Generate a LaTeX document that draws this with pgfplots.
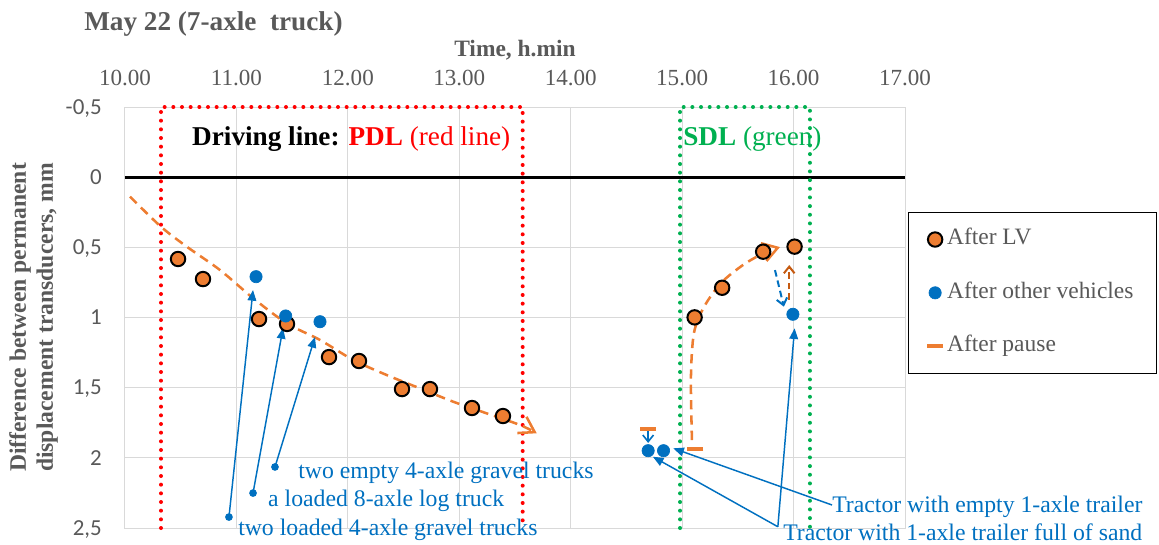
\documentclass[border=0pt]{standalone}
\usepackage{fontspec}
\setmainfont{Liberation Serif}
\newfontfamily\carlito{Carlito}
\usepackage{pgfplots}
\pgfplotsset{compat=1.18}
\usetikzlibrary{arrows.meta}
\definecolor{orng}{HTML}{ED7D31}
\definecolor{blu}{HTML}{0070C0}
\definecolor{dorng}{HTML}{C55A11}
\definecolor{txtgray}{HTML}{595959}
\definecolor{gridgray}{HTML}{D9D9D9}
\definecolor{grn}{HTML}{00B050}
\definecolor{rd}{HTML}{FF0000}
\begin{document}
\begin{tikzpicture}
\useasboundingbox (-93.75pt,-12pt) rectangle (775.5pt,396pt);
\begin{axis}[
  scale only axis, width=585pt, height=315.75pt,
  xmin=10, xmax=17, ymin=-0.5, ymax=2.5, y dir=reverse,
  clip=false,
  xtick={10,11,12,13,14,15,16,17},
  xticklabels={10.00,11.00,12.00,13.00,14.00,15.00,16.00,17.00},
  xticklabel pos=right,
  ytick={-0.5,0,0.5,1,1.5,2,2.5},
  yticklabels={{-0,5},{0},{0,5},{1},{1,5},{2},{2,5}},
  major tick length=0pt,
  grid=major, grid style={gridgray, line width=0.75pt},
  axis line style={gridgray, line width=0.75pt},
  xticklabel style={font=\fontsize{17.3}{20}\selectfont, text=txtgray, anchor=base, inner sep=0pt, yshift=16.5pt},
  yticklabel style={font=\carlito\fontsize{17.2}{20}\selectfont, text=txtgray, anchor=base east, inner sep=0pt, xshift=-17.25pt, yshift=-5.4pt},
  legend style={at={(1.0038,0.7506)}, anchor=north west, draw=black, line width=0.75pt,
    font=\fontsize{17.6}{21}\selectfont, text=txtgray, inner xsep=14pt, inner ysep=9.25pt, row sep=18pt,
    nodes={inner sep=3pt, text height=12pt, text depth=4pt}},
  legend cell align=left,
  legend image code/.code={\draw[mark repeat=2,mark phase=2,#1] plot coordinates {(0pt,0pt)(6pt,0pt)(12pt,0pt)};},
]
% zero line
\addplot[black, line width=2.25pt, forget plot] coordinates {(10,0) (17,0)};
% PDL / SDL boxes
\addplot[rd, line width=3pt, dash pattern=on 0pt off 6.5pt, line cap=round, forget plot]
  coordinates {(10.323,2.5) (10.323,-0.5) (13.569,-0.5) (13.569,2.5)};
\addplot[grn, line width=3pt, dash pattern=on 0pt off 6.5pt, line cap=round, forget plot]
  coordinates {(14.981,2.5) (14.981,-0.5) (16.147,-0.5) (16.147,2.5)};
% trend PDL
\addplot[orng, line width=1.9pt, dash pattern=on 7pt off 4.5pt, smooth, -{Straight Barb[length=11pt,width=14pt]}, forget plot]
  coordinates {(10.045,0.139) (10.323,0.353) (10.554,0.495) (10.853,0.662) (11.151,0.863) (11.451,1.041)
  (11.750,1.160) (12.049,1.303) (12.349,1.410) (12.647,1.505) (12.946,1.600) (13.246,1.683) (13.545,1.766) (13.695,1.825)};
% trend SDL
\addplot[orng, line width=1.9pt, dash pattern=on 7pt off 4.5pt, smooth, -{Straight Barb[length=11pt,width=14pt]}, forget plot]
  coordinates {(15.088,1.873) (15.079,1.424) (15.106,1.110) (15.196,0.925) (15.349,0.754) (15.546,0.626) (15.734,0.540) (15.878,0.498)};
% small arrows
\addplot[blu, line width=1.5pt, dash pattern=on 5pt off 3pt, -{Straight Barb[length=5pt,width=8pt]}, forget plot]
  coordinates {(15.833,0.662) (15.913,0.923)};
\addplot[dorng, line width=1.5pt, dash pattern=on 5pt off 3pt, -{Straight Barb[length=5pt,width=8pt]}, forget plot]
  coordinates {(15.961,0.875) (15.961,0.626)};
\addplot[blu, line width=1.2pt, -{Straight Barb[length=5pt,width=8pt]}, forget plot]
  coordinates {(14.695,1.809) (14.695,1.894)};
% annotation arrows (left)
\addplot[blu, line width=1.1pt, -{Triangle[length=8pt,width=6.5pt]}, mark=*, mark size=2.3pt, mark indices={1}, mark options={fill=blu}, forget plot]
  coordinates {(10.933,2.422) (11.149,0.804)};
\addplot[blu, line width=1.1pt, -{Triangle[length=8pt,width=6.5pt]}, mark=*, mark size=2.3pt, mark indices={1}, mark options={fill=blu}, forget plot]
  coordinates {(11.149,2.251) (11.418,1.075)};
\addplot[blu, line width=1.1pt, -{Triangle[length=8pt,width=6.5pt]}, mark=*, mark size=2.3pt, mark indices={1}, mark options={fill=blu}, forget plot]
  coordinates {(11.346,2.065) (11.705,1.139)};
% annotation arrows (right)
\addplot[blu, line width=1.1pt, -{Triangle[length=8pt,width=6.5pt]}, forget plot]
  coordinates {(16.345,2.336) (14.920,1.932)};
\addplot[blu, line width=1.1pt, -{Triangle[length=8pt,width=6.5pt]}, forget plot]
  coordinates {(15.859,2.491) (14.737,1.992)};
\addplot[blu, line width=1.1pt, -{Triangle[length=8pt,width=6.5pt]}, forget plot]
  coordinates {(15.859,2.491) (16.009,1.077)};
% series
\addplot[only marks, mark=*, mark size=5.4pt, mark options={fill=orng, draw=black, line width=1.5pt}]
  coordinates {(10.476,0.583) (10.700,0.726) (11.203,1.011) (11.454,1.046) (11.831,1.282) (12.100,1.310)
  (12.486,1.510) (12.737,1.510) (13.114,1.645) (13.392,1.702)
  (15.112,0.999) (15.359,0.788) (15.727,0.531) (16.009,0.495)};
\addlegendentry{After LV}
\addplot[only marks, mark=*, mark size=4.6pt, mark options={fill=blu, draw=blu, line width=0.5pt}]
  coordinates {(11.176,0.709) (11.442,0.989) (11.750,1.030) (14.695,1.949) (14.833,1.949) (15.994,0.977)};
\addlegendentry{After other vehicles}
\addplot[only marks, mark=-, mark size=6pt, mark options={draw=orng, line width=3pt}]
  coordinates {(14.695,1.797) (15.119,1.939)};
\addlegendentry{After pause}
% texts
\node[anchor=base west, inner sep=0pt, font=\fontsize{20.4}{24}\selectfont] at (axis cs:10.601,-0.229)
  {\textbf{Driving line: }{\color{rd}\textbf{PDL} (red line)}};
\node[anchor=base west, inner sep=0pt, font=\fontsize{20.4}{24}\selectfont, text=grn] at (axis cs:15.008,-0.229)
  {\textbf{SDL} (green)};
\node[anchor=base west, inner sep=0pt, text=blu, font=\fontsize{17.8}{21}\selectfont] at (axis cs:11.553,2.144) {two empty 4-axle gravel trucks};
\node[anchor=base west, inner sep=0pt, text=blu, font=\fontsize{17.8}{21}\selectfont] at (axis cs:11.283,2.350) {a loaded 8-axle log truck};
\node[anchor=base west, inner sep=0pt, text=blu, font=\fontsize{17.8}{21}\selectfont] at (axis cs:11.014,2.550) {two loaded 4-axle gravel trucks};
\node[anchor=base west, inner sep=0pt, text=blu, font=\fontsize{17.8}{21}\selectfont] at (axis cs:16.345,2.386) {Tractor with empty 1-axle trailer};
\node[anchor=base west, inner sep=0pt, text=blu, font=\fontsize{17.8}{21}\selectfont] at (axis cs:15.905,2.586) {Tractor with 1-axle trailer full of sand};
\node[anchor=base west, inner sep=0pt, text=txtgray, font=\bfseries\fontsize{20.4}{24}\selectfont] at (axis cs:9.632,-1.042) {May 22 (7-axle\ \ truck)};
\node[anchor=base, inner sep=0pt, text=txtgray, font=\bfseries\fontsize{17.6}{21}\selectfont] at (axis cs:13.5,-0.863) {Time, h.min};
\node[rotate=90, align=center, inner sep=0pt, text=txtgray, font=\bfseries\fontsize{17.7}{20.25}\selectfont] at (axis cs:9.179,1.0)
  {Difference between permanent\\displacement transducers, mm};
\end{axis}
\end{tikzpicture}
\end{document}
